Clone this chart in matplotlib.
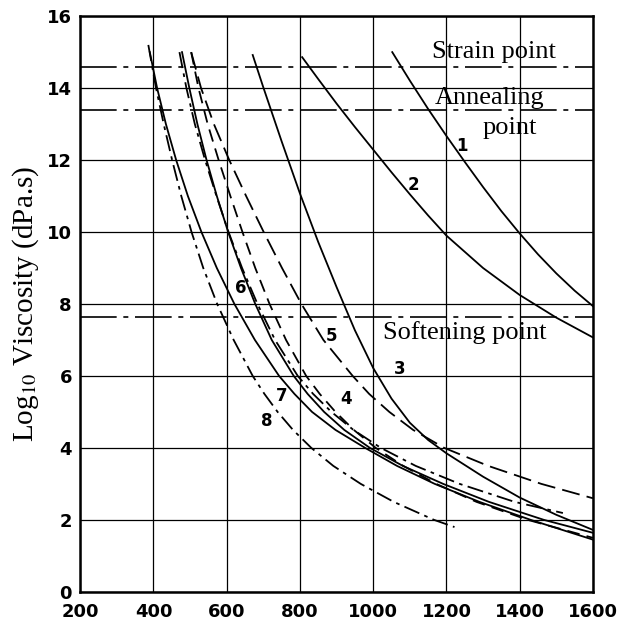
import matplotlib
matplotlib.use("Agg")
import matplotlib.pyplot as plt

plt.rcParams['mathtext.fontset'] = 'stix'

# temperature (x) and log10 viscosity (y)
c1_x = [1052, 1100, 1150, 1200, 1250, 1300, 1350, 1400, 1450, 1500, 1550, 1600]
c1_y = [15.0, 14.21, 13.42, 12.67, 11.95, 11.25, 10.58, 9.96, 9.38, 8.85, 8.37, 7.94]

c2_x = [806, 850, 900, 950, 1000, 1050, 1100, 1150, 1200, 1300, 1400, 1500, 1600]
c2_y = [14.86, 14.25, 13.57, 12.92, 12.29, 11.66, 11.05, 10.46, 9.9, 9.0, 8.25, 7.62, 7.07]

c3_x = [671, 700, 750, 800, 850, 900, 950, 1000, 1050, 1100, 1150, 1200, 1300, 1400, 1500, 1600]
c3_y = [14.92, 14.02, 12.52, 11.07, 9.72, 8.47, 7.27, 6.22, 5.37, 4.70, 4.22, 3.85, 3.2, 2.62, 2.14, 1.72]

c4_x = [503, 523, 548, 578, 610, 643, 678, 717, 762, 817, 854, 897, 947, 1007, 1082, 1172, 1282, 1422, 1600]
c4_y = [15.0, 14.0, 13.0, 12.0, 11.0, 10.0, 9.0, 8.0, 7.0, 6.0, 5.5, 5.0, 4.5, 4.0, 3.5, 3.0, 2.5, 2.0, 1.5]

c5_x = [503, 530, 565, 607, 653, 701, 751, 804, 864, 944, 989, 1044, 1109, 1194, 1314, 1459, 1600]
c5_y = [15.0, 14.0, 13.0, 12.0, 11.0, 10.0, 9.0, 8.0, 7.0, 6.0, 5.5, 5.0, 4.5, 4.0, 3.5, 3.0, 2.6]

c6_x = [478, 498, 520, 545, 573, 604, 639, 678, 723, 783, 821, 866, 921, 991, 1081, 1191, 1316, 1466, 1600]
c6_y = [15.0, 14.0, 13.0, 12.0, 11.0, 10.0, 9.0, 8.0, 7.0, 6.0, 5.5, 5.0, 4.5, 4.0, 3.5, 3.0, 2.5, 2.0, 1.64]

# unlabelled dash-dot curve running next to curve 6
c6b_x = [471, 490, 513, 541, 572, 605, 642, 684, 732, 794, 836, 886, 946, 1021, 1116, 1236, 1386, 1518]
c6b_y = [15.0, 14.0, 13.0, 12.0, 11.0, 10.0, 9.0, 8.0, 7.0, 6.0, 5.5, 5.0, 4.5, 4.0, 3.5, 3.0, 2.5, 2.19]

c7_x = [390, 410, 434, 462, 494, 531, 573, 621, 677, 743, 785, 833, 897, 978, 1065, 1168, 1290, 1430, 1600]
c7_y = [15.0, 14.0, 13.0, 12.0, 11.0, 10.0, 9.0, 8.0, 7.0, 6.0, 5.5, 5.0, 4.5, 4.0, 3.5, 3.0, 2.5, 2.0, 1.45]

c8_x = [386, 407, 428, 451, 476, 504, 536, 574, 619, 671, 703, 739, 781, 831, 891, 966, 1056, 1166, 1222]
c8_y = [15.2, 14.0, 13.0, 12.0, 11.0, 10.0, 9.0, 8.0, 7.0, 6.0, 5.5, 5.0, 4.5, 4.0, 3.5, 3.0, 2.5, 2.0, 1.8]

strain_y = 14.6
annealing_y = 13.4
softening_y = 7.65

curve_labels = ['1', '2', '3', '4', '5', '6', '7', '8']
label_x = [1241, 1110, 1071, 926, 885, 638, 751, 708]
label_y = [12.4, 11.3, 6.2, 5.35, 7.1, 8.45, 5.45, 4.75]

fig = plt.figure(figsize=(6.17, 6.21), dpi=100)
ax = fig.add_axes([0.13, 0.047, 0.831, 0.927])

dashdot = (0, (9, 3, 2, 3))
refline = (0, (22, 4, 3, 4))

ax.plot(c1_x, c1_y, color='black', lw=1.3)
ax.plot(c2_x, c2_y, color='black', lw=1.3)
ax.plot(c3_x, c3_y, color='black', lw=1.3)
ax.plot(c4_x, c4_y, color='black', lw=1.3, linestyle=(0, (7, 4)))
ax.plot(c5_x, c5_y, color='black', lw=1.3, linestyle=(0, (10, 4)))
ax.plot(c6_x, c6_y, color='black', lw=1.3)
ax.plot(c6b_x, c6b_y, color='black', lw=1.3, linestyle=dashdot)
ax.plot(c7_x, c7_y, color='black', lw=1.3)
ax.plot(c8_x, c8_y, color='black', lw=1.3, linestyle=dashdot)

for yy in [strain_y, annealing_y, softening_y]:
    ax.axhline(yy, color='black', lw=1.2, linestyle=refline)

for lab, lx, ly in zip(curve_labels, label_x, label_y):
    ax.text(lx, ly, lab, fontsize=12, fontweight='bold', ha='center', va='center',
            family='DejaVu Sans')

serif = 'Liberation Serif'
ax.text(1330, 15.0, 'Strain point', fontsize=19, family=serif, ha='center', va='center')
ax.text(1318, 13.72, 'Annealing', fontsize=19, family=serif, ha='center', va='center')
ax.text(1373, 12.9, 'point', fontsize=19, family=serif, ha='center', va='center')
ax.text(1027, 7.2, 'Softening point', fontsize=19, family=serif, ha='left', va='center')

ax.set_xlim(200, 1600)
ax.set_ylim(0, 16)
ax.set_xticks(range(200, 1601, 200))
ax.set_yticks(range(0, 17, 2))
ax.grid(True, color='black', lw=0.9)
ax.tick_params(length=0)
ax.tick_params(axis='x', pad=8)
ax.tick_params(axis='y', pad=6)
for lbl in ax.get_xticklabels() + ax.get_yticklabels():
    lbl.set_fontsize(13)
    lbl.set_fontweight('bold')
for sp in ax.spines.values():
    sp.set_linewidth(1.8)

ax.set_ylabel(r'Log$_{10}$ Viscosity (dPa.s)', fontsize=21, family=serif, labelpad=4)

fig.savefig('out.png', dpi=100)
